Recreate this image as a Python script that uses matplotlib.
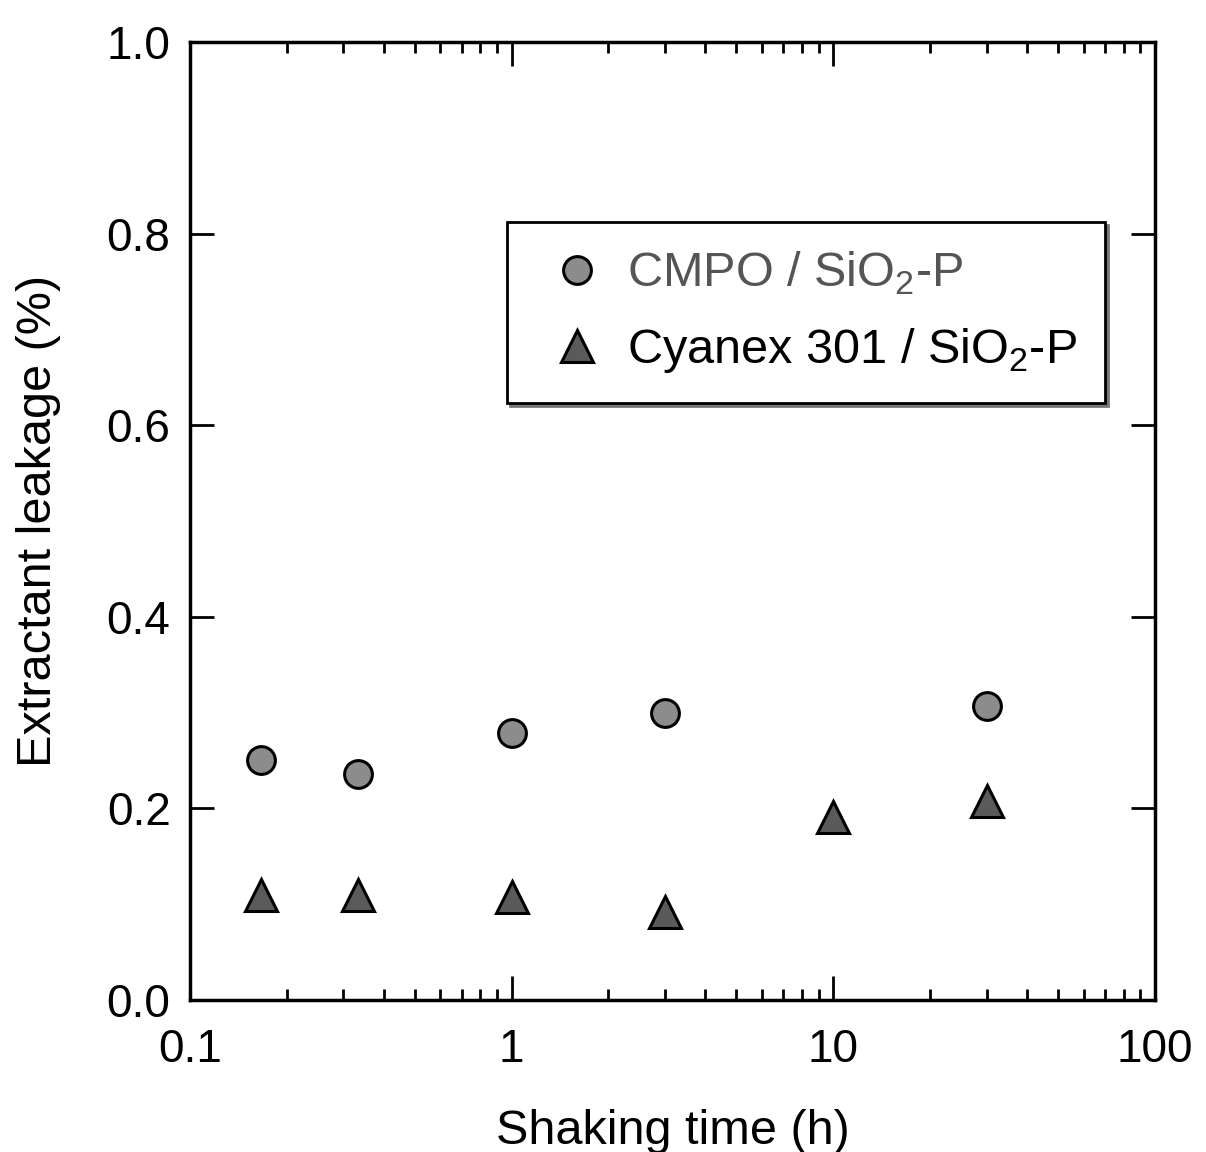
import matplotlib.pyplot as plt
import numpy as np

plt.rcParams['font.family'] = ['Liberation Sans', 'DejaVu Sans']
plt.rcParams['mathtext.fontset'] = 'custom'
plt.rcParams['mathtext.rm'] = 'Liberation Sans'

# shaking time (h) and leakage (%)
t_cmpo = [0.1667, 0.333, 1, 3, 30]
leak_cmpo = [0.250, 0.236, 0.279, 0.300, 0.307]
t_cyanex = [0.1667, 0.333, 1, 3, 10, 30]
leak_cyanex = [0.110, 0.110, 0.107, 0.092, 0.191, 0.208]

fig = plt.figure(figsize=(12.06, 11.52), dpi=100)
ax = fig.add_axes([0.1575, 0.132, 0.8002, 0.8315])

ax.plot(t_cmpo, leak_cmpo, 'o', ms=20, mfc='#8c8c8c', mec='black', mew=2.2,
        label='CMPO / SiO$_2$-P')
ax.plot(t_cyanex, leak_cyanex, '^', ms=23, mfc='#5a5a5a', mec='black', mew=2.2,
        label='Cyanex 301 / SiO$_2$-P')

ax.set_xscale('log')
ax.set_xlim(0.1, 100)
ax.set_ylim(0, 1.0)
ax.set_xticks([0.1, 1, 10, 100])
ax.set_xticklabels(['0.1', '1', '10', '100'])
ax.set_yticks(np.arange(0, 1.01, 0.2))
ax.set_yticklabels(['0.0', '0.2', '0.4', '0.6', '0.8', '1.0'])

ax.tick_params(which='both', direction='in', top=True, right=True, labelsize=33)
ax.tick_params(axis='x', pad=20)
ax.tick_params(axis='y', pad=14)
ax.tick_params(which='major', length=17, width=2)
ax.tick_params(which='minor', length=8, width=2)
for s in ax.spines.values():
    s.set_linewidth(2.5)

ax.set_xlabel('Shaking time (h)', fontsize=35, labelpad=27)
ax.set_ylabel('Extractant leakage (%)', fontsize=35, labelpad=33)

leg = ax.legend(loc='upper right', bbox_to_anchor=(0.948, 0.812), borderaxespad=0,
                fontsize=35, fancybox=False, shadow={'color': '#777777', 'alpha': 1},
                edgecolor='black', framealpha=1, borderpad=0.57, labelspacing=0.6,
                handletextpad=0.15, handlelength=1.75)
leg.get_frame().set_linewidth(2)
leg.get_texts()[0].set_color('#555555')

fig.savefig('out.png', dpi=100)
